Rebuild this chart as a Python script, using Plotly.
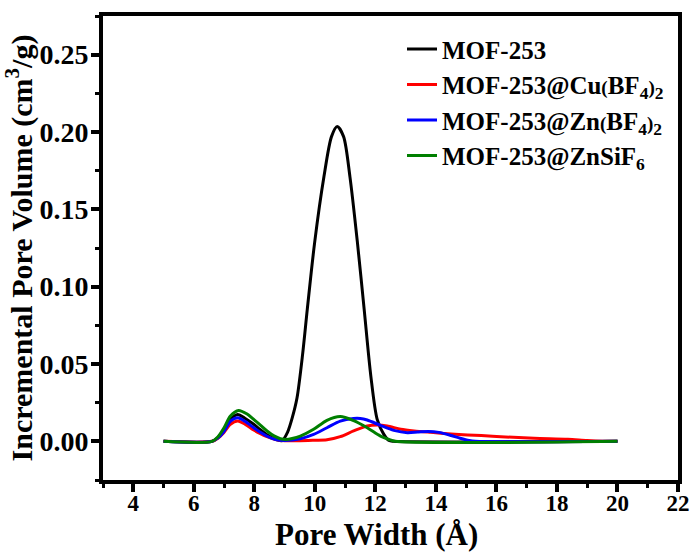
import plotly.graph_objects as go

# ---- data ----
names = ["MOF-253",
         "MOF-253@Cu<span style='font-size:19px'>(</span>BF<sub>4</sub><span style='font-size:19px'>)</span><sub>2</sub>",
         "MOF-253@Zn<span style='font-size:19px'>(</span>BF<sub>4</sub><span style='font-size:19px'>)</span><sub>2</sub>",
         "MOF-253@ZnSiF<sub>6</sub>"]
colors = ["#000000", "#ff0000", "#0000ff", "#007f00"]

x_mof = [5.0, 6.6, 6.8, 6.99, 7.21, 7.45, 7.7, 7.98, 8.2, 8.42, 8.75, 8.92, 9.1, 9.25,
         9.41, 9.6, 9.75, 9.99, 10.3, 10.55, 10.74, 10.95, 11.16, 11.41, 11.63, 11.85,
         12.06, 12.28, 12.45, 12.6, 20.0]
y_mof = [0.0, 0.0, 0.0025, 0.0067, 0.014, 0.0174, 0.0148, 0.011, 0.0075, 0.0043, 0.001,
         0.0005, 0.006, 0.015, 0.028, 0.057, 0.0853, 0.128, 0.171, 0.197, 0.2035, 0.197,
         0.171, 0.128, 0.0853, 0.0422, 0.0142, 0.0045, 0.0005, 0.0, 0.0]

x_cu = [5.0, 6.6, 6.8, 6.99, 7.21, 7.45, 7.7, 7.98, 8.2, 8.42, 8.7, 9.0, 9.5, 10.0, 10.4,
        10.84, 11.28, 11.73, 12.06, 12.39, 12.84, 13.28, 13.83, 14.5, 15.05, 15.5, 16.15,
        17.25, 18.36, 19.0, 19.5, 20.0]
y_cu = [0.0, 0.0, 0.002, 0.0056, 0.011, 0.0131, 0.011, 0.0073, 0.005, 0.003, 0.0012,
        0.0004, 0.0004, 0.0007, 0.001, 0.003, 0.0067, 0.0099, 0.0105, 0.0099, 0.0078,
        0.0067, 0.0058, 0.0048, 0.0041, 0.0037, 0.003, 0.002, 0.0013, 0.0005, 0.0001, 0.0]

x_zn = [5.0, 6.6, 6.8, 6.99, 7.21, 7.45, 7.7, 7.98, 8.2, 8.42, 8.7, 9.0, 9.52, 9.96, 10.4,
        10.84, 11.28, 11.5, 11.73, 12.17, 12.61, 13.06, 13.4, 13.75, 14.1, 14.5, 14.8,
        15.1, 15.3, 20.0]
y_zn = [0.0, 0.0, 0.0022, 0.0062, 0.013, 0.0153, 0.0128, 0.0088, 0.0058, 0.0033, 0.0012,
        0.0006, 0.0017, 0.0045, 0.0088, 0.0131, 0.0148, 0.0148, 0.0138, 0.0103, 0.0071,
        0.0056, 0.006, 0.0064, 0.0058, 0.0038, 0.002, 0.0005, 0.0, 0.0]

x_sif = [5.0, 6.6, 6.8, 7.0, 7.21, 7.48, 7.75, 7.98, 8.2, 8.42, 8.65, 8.86, 9.05, 9.25,
         9.52, 9.96, 10.4, 10.84, 11.28, 11.73, 12.17, 12.45, 12.65, 20.0]
y_sif = [0.0, 0.0, 0.003, 0.0088, 0.0164, 0.020, 0.0178, 0.0142, 0.0105, 0.0067, 0.0035,
         0.0017, 0.0012, 0.0018, 0.0034, 0.0078, 0.0136, 0.016, 0.0134, 0.0088, 0.0034,
         0.0012, 0.0, 0.0]

xs = [x_mof, x_cu, x_zn, x_sif]
ys = [y_mof, y_cu, y_zn, y_sif]

x_tickvals = [4, 6, 8, 10, 12, 14, 16, 18, 20, 22]
y_tickvals = [0.00, 0.05, 0.10, 0.15, 0.20, 0.25]
x_title = "Pore Width (Å)"
y_title = "Incremental Pore Volume (cm<sup>3</sup>/g)"

FONT = "Liberation Serif"

fig = go.Figure()
for xv, yv, nm, c in zip(xs, ys, names, colors):
    fig.add_trace(go.Scatter(x=xv, y=yv, mode="lines", name=nm,
                             line=dict(color=c, width=3, shape="spline", smoothing=0.8)))

axis_common = dict(showline=True, linewidth=4, linecolor="black", mirror=True,
                   ticks="outside", ticklen=8, tickwidth=4, tickcolor="black",
                   showgrid=False, zeroline=False, automargin=False,
                   minor=dict(ticks="outside", ticklen=4, tickwidth=3, tickcolor="black"))

fig.update_layout(
    width=695, height=552,
    margin=dict(l=103, r=17, t=16, b=72),
    plot_bgcolor="white", paper_bgcolor="white",
    font=dict(family=FONT, color="black", weight="bold"),
    showlegend=True,
    legend=dict(x=0.52, y=0.978, xanchor="left", yanchor="top",
                font=dict(family=FONT, size=25, color="black", weight="bold"),
                bgcolor="rgba(0,0,0,0)", borderwidth=0, tracegroupgap=0),
    xaxis=dict(range=[3, 22], tickvals=x_tickvals, ticktext=[str(v) for v in x_tickvals],
               tickfont=dict(family=FONT, size=23, weight="bold"),
               ticklabelstandoff=-9,
               **axis_common),
    yaxis=dict(range=[-0.025, 0.275], tickvals=y_tickvals,
               ticktext=[f"{v:.2f}" for v in y_tickvals],
               tickfont=dict(family=FONT, size=28, weight="bold"),
               ticklabelstandoff=-3,
               title=dict(text=y_title, standoff=2,
                          font=dict(family=FONT, size=30, weight="bold")),
               **axis_common),
    annotations=[dict(text=x_title, xref="paper", yref="paper", x=0.476, y=-0.117,
                      xanchor="center", yanchor="middle", showarrow=False, borderpad=0,
                      font=dict(family=FONT, size=31, color="black", weight="bold"))],
)
fig.update_xaxes(minor=dict(dtick=1, tick0=3))
fig.update_yaxes(minor=dict(dtick=0.025, tick0=0))

fig.write_html("out.html", config={"displayModeBar": False},
               post_script="document.body.style.margin='0';")
